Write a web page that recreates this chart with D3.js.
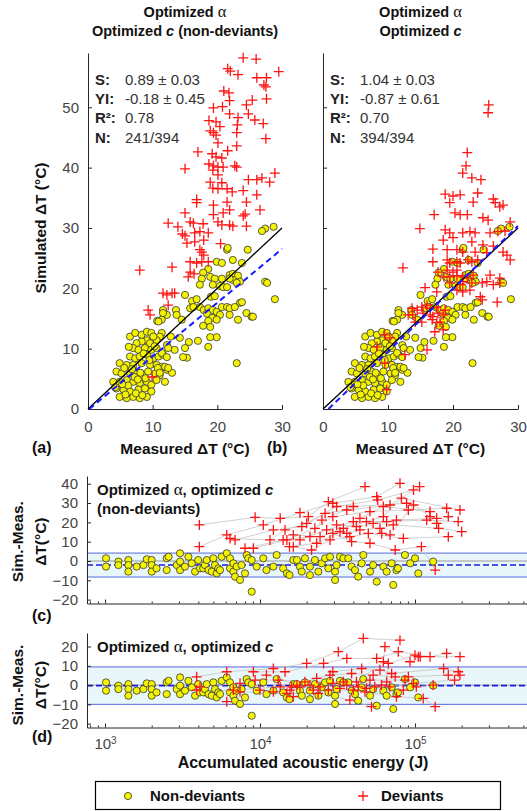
<!DOCTYPE html>
<html>
<head>
<meta charset="utf-8">
<script src="https://cdn.jsdelivr.net/npm/d3@7"></script>
<style>
  body { margin: 0; background: #fff; }
  svg { display: block; font-family: "Liberation Sans", Arial, sans-serif; }
</style>
</head>
<body>
<svg id="chart" width="527" height="811"></svg>
<script>
// ---- data ----
// non-deviants: [measured dT, simulated dT] (nearly identical in a and b)
const nonDev = [
  [27.4,29.9],[28.7,30.2],[26.9,29.5],[21.5,26.4],[21.6,26.7],[24.7,26.4],[19.9,24.4],[20.7,24.2],[22.4,24.7],[23.8,24.2],
  [18.6,23.2],[17.8,22.6],[17.6,21.6],[21.9,22.2],[22.4,22.4],[23.2,22.1],[23.5,21.1],[22.4,21.4],[21.9,21.6],[18.9,21.9],
  [19.6,21.6],[20.7,21.6],[17.3,20.6],[19.3,20.6],[20.4,20.4],[20.9,20.2],[21.5,20.2],[27.4,21.1],[27.7,20.9],[23.0,20.9],
  [15.0,18.9],[16.1,17.9],[16.8,18.2],[19.0,18.6],[19.6,18.7],[23.5,17.6],[28.9,18.2],[11.6,16.4],[12.2,15.6],[11.4,14.8],
  [10.7,14.6],[11.6,15.9],[13.6,16.4],[13.7,15.6],[15.8,16.7],[16.3,16.9],[17.3,16.9],[17.9,16.4],[18.6,16.7],[19.3,16.4],
  [19.9,16.1],[20.7,16.9],[21.5,16.9],[21.9,16.7],[22.7,16.9],[20.4,15.6],[21.9,15.6],[23.2,14.8],[18.4,15.8],[19.2,15.1],
  [18.6,14.6],[19.9,14.8],[17.8,13.8],[18.9,13.6],[24.5,15.9],[25.3,15.3],[25.5,15.3],[23.8,17.7],[14.5,14.8],[18.6,10.3],
  [19.9,11.9],[18.9,11.9],[17.0,11.3],[15.6,11.1],[14.2,11.8],[23.0,7.6],[15.0,10.1],[15.3,8.5],[14.7,8.6],[13.4,9.8],
  [12.2,10.6],[12.4,10.1],[11.4,12.6],[11.1,12.0],[10.4,11.2],[10.6,11.4],[10.9,14.5],[9.1,11.4],[9.6,10.9],[8.3,11.2],
  [7.5,10.9],[7.0,10.1],[7.8,9.8],[8.8,10.1],[9.8,9.8],[6.5,8.7],[7.3,8.4],[8.0,8.7],[9.1,9.0],[10.1,8.4],
  [10.9,8.7],[11.6,9.0],[4.9,7.6],[6.0,7.3],[7.0,7.3],[8.3,7.6],[9.6,7.3],[10.6,7.3],[11.4,7.0],[12.2,6.5],
  [4.4,6.2],[5.2,5.9],[6.5,5.9],[7.5,6.2],[8.5,5.6],[9.3,6.2],[10.4,5.9],[11.1,5.6],[3.9,4.5],[4.9,4.5],
  [6.0,4.8],[7.0,4.5],[8.0,4.3],[9.1,4.5],[9.8,4.0],[10.6,4.8],[11.9,4.5],[4.4,3.4],[5.5,3.2],[6.5,2.9],
  [7.8,3.2],[8.8,3.4],[9.8,2.9],[4.9,2.0],[6.0,1.8],[7.0,2.0],[8.0,1.8],[9.1,2.0],[6.5,12.0],[7.3,12.6],
  [8.3,12.3],[9.1,12.8],[9.8,12.6],[10.1,12.0],[10.8,6.8],[13.0,6.0],[11.9,7.0],[11.1,6.0],[10.6,10.1],[12.4,6.8],
  [11.4,9.3],[12.2,8.6],[4.2,3.6],[5.8,2.4],[7.4,2.6],[8.4,2.3],[6.2,3.9],[7.2,5.3],[8.9,5.1],[5.6,6.8],
  [6.8,6.6],[8.1,6.0],[9.5,8.1],[5.3,4.1],[7.7,4.9],[6.3,10.3],[8.6,9.2],[10.3,10.4],[12.8,12.0]
];

// deviants, panel (a)
const devA = [
  [24.0,58.2],[26.0,58.0],[21.6,56.4],[22.0,56.0],[23.2,55.4],[29.5,55.9],[26.1,54.9],[27.6,54.9],[27.2,53.7],[27.5,53.4],
  [21.0,52.7],[21.8,52.4],[27.6,51.4],[21.9,51.1],[25.4,51.2],[24.5,50.4],[19.4,49.9],[20.8,50.1],[24.8,48.9],[21.9,48.9],
  [23.2,48.3],[23.1,47.1],[18.7,47.8],[19.8,47.6],[25.8,47.9],[27.1,47.3],[20.4,46.8],[18.9,46.1],[19.4,45.8],[19.8,45.4],
  [23.0,45.8],[27.5,44.8],[20.1,44.1],[23.0,43.6],[17.0,42.6],[21.6,42.8],[19.2,42.3],[19.8,41.8],[20.7,41.6],[18.7,40.6],
  [19.4,40.3],[20.1,40.1],[20.9,40.1],[22.7,40.3],[23.0,40.1],[15.0,39.8],[19.3,39.6],[20.1,38.8],[28.9,39.1],[24.8,38.0],
  [26.1,38.0],[28.1,37.6],[26.9,38.3],[18.9,37.6],[20.7,37.5],[19.3,36.6],[20.1,36.5],[21.5,36.5],[22.3,36.0],[24.0,36.2],
  [26.1,35.5],[16.8,34.7],[16.8,34.2],[19.4,33.8],[21.5,34.3],[24.5,34.3],[15.0,32.5],[19.4,32.2],[20.9,32.5],[21.9,33.0],
  [24.0,32.0],[24.3,32.3],[26.6,33.0],[12.4,30.8],[13.9,30.2],[15.8,31.0],[16.3,30.8],[17.8,30.7],[20.1,31.0],[20.7,30.5],
  [21.9,30.5],[22.4,30.3],[24.5,30.3],[14.6,29.0],[15.0,28.7],[16.5,29.2],[17.3,29.4],[18.6,29.2],[15.3,27.5],[16.5,27.7],
  [17.9,28.0],[20.5,27.4],[17.3,26.4],[17.6,26.0],[17.9,25.5],[15.8,24.4],[16.8,24.2],[17.6,24.4],[18.6,24.4],[8.0,23.0],
  [13.0,23.5],[15.8,22.7],[16.4,22.4],[15.5,21.9],[11.6,19.2],[12.2,18.9],[13.0,19.2],[13.4,19.2],[12.4,17.2],[9.3,16.4],
  [9.6,15.6],[9.9,5.3]
];

// deviants, panel (b)
const devB = [
  [25.5,50.4],[25.4,49.1],[22.2,42.5],[22.0,40.3],[21.5,39.1],[22.9,38.3],[24.3,38.0],[18.8,35.6],[20.0,35.3],[21.1,35.5],
  [23.8,35.8],[26.2,34.8],[19.5,34.2],[23.1,34.3],[26.5,34.2],[27.2,33.5],[27.7,33.8],[17.1,32.2],[20.3,32.5],[21.1,32.2],
  [22.2,32.2],[24.6,31.7],[25.4,31.3],[28.8,31.0],[14.9,29.9],[18.8,29.7],[19.5,29.2],[21.5,29.2],[22.6,29.4],[23.4,29.2],
  [25.7,29.2],[26.9,29.4],[28.0,29.5],[18.5,28.0],[20.0,28.4],[22.9,27.7],[24.6,27.2],[26.2,27.0],[16.9,26.5],[19.1,26.4],
  [20.6,26.4],[21.5,26.0],[23.4,26.0],[25.2,25.9],[27.7,26.0],[28.3,25.5],[16.9,24.4],[19.1,24.7],[19.5,24.2],[20.6,24.4],
  [21.1,24.2],[22.3,24.7],[22.9,24.4],[23.8,24.7],[28.8,24.7],[12.3,23.4],[17.7,22.7],[19.1,23.0],[20.0,22.7],[20.6,23.0],
  [18.6,21.9],[19.5,21.9],[20.6,22.1],[21.5,21.9],[22.2,21.7],[23.1,22.2],[25.7,22.2],[27.2,21.7],[19.5,20.9],[21.1,20.6],
  [21.5,21.1],[22.9,20.9],[24.5,20.9],[25.2,21.1],[26.2,20.6],[27.2,20.9],[15.7,20.1],[17.5,19.4],[20.6,19.7],[21.5,19.4],
  [22.6,19.7],[24.2,18.6],[24.5,18.1],[26.8,17.7],[13.7,16.7],[14.5,16.4],[15.2,16.9],[16.0,17.2],[16.5,16.7],[17.5,16.9],
  [18.8,16.4],[13.1,15.6],[13.8,15.6],[15.4,15.9],[16.5,15.6],[16.9,15.3],[17.7,15.9],[18.5,15.6],[14.2,14.4],[15.2,14.4],
  [16.8,14.8],[17.5,14.3],[18.0,14.4],[17.2,12.8],[18.5,13.1],[9.5,12.3],[10.3,11.8],[8.3,10.3],[16.0,9.8],[12.6,9.0],
  [9.5,7.6],[9.8,3.2]
];

const fitSlope = [0.89, 1.04];
const fitIntercept = [-0.18, -0.87];
const statLabels = ["S:", "YI:", "R\u00b2:", "N:"];
const statsA = ["0.89 \u00b1 0.03", "-0.18 \u00b1 0.45", "0.78", "241/394"];
const statsB = ["1.04 \u00b1 0.03", "-0.87 \u00b1 0.61", "0.70", "394/394"];

// non-deviants, residuals: [accumulated energy (J), sim - meas]
const nonDevRes = [
  [1015,1.4],[1015,-2.9],[1220,-0.3],[1220,-2.1],[1415,0.5],[1415,-2.1],[1415,-5.5],[1600,-2.9],[1770,-2.1],[1860,0.9],
  [2000,0.5],[2000,-2.1],[2000,-5.5],[2150,-3.8],[2500,1.4],[2500,-4.7],[2570,2.2],[2900,-2.1],[3050,4.0],[3050,-0.3],
  [3050,-4.7],[3280,-2.9],[3450,2.2],[3630,-1.2],[3810,-5.5],[3990,0.5],[4100,-3.8],[4300,-3.8],[4410,-2.1],[4530,0.5],
  [4650,-4.7],[4880,-5.5],[5000,1.4],[5120,-2.1],[5260,-6.4],[5380,-3.8],[5520,-4.7],[5660,2.2],[6100,4.0],[6400,1.4],
  [6400,-3.8],[6730,-1.2],[6730,-5.5],[6900,-8.1],[7070,-2.9],[7430,-9.8],[7600,-2.1],[8000,-6.4],[8200,3.1],[8400,1.4],
  [8840,-15.9],[8840,0.5],[9510,-2.9],[10500,1.4],[11000,-4.7],[12200,-2.9],[12800,3.1],[14100,-3.8],[14900,-6.4],[15500,-7.3],
  [16400,0.5],[17300,0.5],[18100,-2.9],[18600,-5.5],[19500,1.4],[21000,-2.9],[21000,-7.3],[22600,0.5],[23800,-5.5],[25000,-1.2],
  [26300,1.4],[27600,-3.8],[28300,2.2],[30500,-5.5],[30500,-9.8],[31200,-2.1],[32800,2.2],[34500,1.4],[37100,1.4],[39000,-2.9],
  [41000,-4.7],[43000,-8.1],[45300,-1.2],[46400,3.1],[51300,-5.5],[53700,-2.1],[56600,-10.7],[62500,-2.9],[65600,-5.5],[70700,-1.2],
  [72400,-12.4],[75900,-4.7],[77600,-3.8],[86100,3.1],[93100,-1.2],[100000,1.4],[105000,-6.4],[131000,-0.3]
];

// deviants, residuals, panel (c): series of measurements, one list per sample
const devResC = [
  [[4060,18.7],[9300,22.6],[13500,22.1],[20500,23.0],[27600,30.7],[47600,38.5]],
  [[4060,7.4],[6100,13.5],[10500,18.7],[18100,25.0],[29500,29.9],[56600,33.3],[80000,40.2]],
  [[6400,11.7],[11600,10.9],[14500,16.1],[20000,19.5],[31200,28.2],[57500,31.6],[97800,36.8]],
  [[6900,10.9],[12200,16.1],[18600,17.8],[26300,24.7],[36300,26.4],[69000,29.0],[107000,38.5]],
  [[8000,6.6],[14100,10.9],[21000,12.6],[25100,21.2],[40000,28.2],[88300,29.9]],
  [[9060,6.6],[14900,10.9],[22600,16.9],[29500,23.0],[51200,25.6],[90600,26.4],[160000,27.3]],
  [[15500,7.4],[23200,9.2],[32800,15.2],[44100,22.1],[62500,28.2],[125000,25.6]],
  [[16400,13.5],[24400,12.6],[34500,16.9],[62500,23.0],[81700,32.5],[195000,26.4]],
  [[16400,7.4],[21500,5.7],[28300,10.9],[38000,12.6],[50000,14.3],[84100,11.7],[164000,12.6]],
  [[18100,10.9],[26900,16.1],[40000,20.4],[65600,20.4],[119000,21.2],[190000,20.4]],
  [[29500,14.3],[39000,10.0],[51200,9.2],[74500,5.7],[110000,7.4],[135000,-4.7]],
  [[31200,18.7],[41900,17.8],[53700,19.5],[75900,21.2],[138000,22.1]],
  [[36300,14.3],[44100,16.1],[59400,16.9],[72400,18.7],[142000,16.9],[200000,15.2]],
  [[48600,20.4],[61000,14.3],[69000,13.5],[97800,29.0],[125000,23.0],[138000,19.5],[164000,23.0]]
];

// deviants, residuals, panel (d)
const devResD = [
  [[3900,4.3],[6100,6.9],[12200,8.6],[20000,11.2],[32000,17.3],[46400,24.2],[80000,23.3]],
  [[3900,-2.6],[6730,-2.6],[13500,-0.9],[18100,-0.9],[27600,-2.6],[40000,-2.6],[68800,-0.9]],
  [[4100,-0.9],[7430,0.9],[9300,2.6],[13100,2.6],[19500,1.7],[34500,1.7],[51200,2.6],[86100,2.6]],
  [[6100,-8.6],[7430,-3.5],[14900,-4.3],[23700,-4.3],[38000,-7.8],[52400,-11.2]],
  [[9060,6.9],[14500,6.9],[25700,11.2],[36300,13.8],[56600,13.8],[78000,17.3],[125000,14.7],[160000,16.4]],
  [[10000,-2.6],[16400,-6.0],[22100,-2.6],[32800,-1.7],[47600,-3.5],[75900,-6.0],[113000,-6.9],[135000,-11.2]],
  [[11000,5.2],[17300,0],[23200,3.5],[28300,5.2],[39000,6.0],[53700,5.2],[74500,4.3],[90600,4.3],[164000,5.2]],
  [[12200,-3.5],[15600,-2.6],[21000,0],[29500,0.9],[43000,-0.9],[60800,0],[102000,-0.9],[131000,0]],
  [[16000,-0.9],[24400,-0.9],[36300,0],[48600,-1.7],[55000,-0.9],[84100,-2.6],[97800,0.9],[180000,2.6]],
  [[29500,6.9],[45300,8.6],[59400,7.8],[70700,6.0],[153000,8.6],[190000,6.9],[195000,5.2]],
  [[41900,1.7],[62500,12.1],[64000,19.9],[92900,12.1],[105000,14.7],[195000,14.7]],
  [[65600,1.7],[67300,11.2],[100000,15.5],[108000,14.7]]
];

// [lower limit, mean, upper limit]
const bandC = [-8.3, -2.1, 4.1];
const bandD = [-10.0, -0.3, 9.4];

const xTicksAB = [0, 10, 20, 30];
const yTicksAB = [0, 10, 20, 30, 40, 50];
const yTicksC = [-20, -10, 0, 10, 20, 30, 40];
const yTicksD = [-20, -10, 0, 10, 20];
const xTicksE = [1e3, 1e4, 1e5];

// ---- drawing ----
const svg = d3.select("#chart");
const AX = "#262626";
const TXT = "#444";
const YELLOW = "#f4f400";
const RED = "#ff1414";

const yAB = d3.scaleLinear().domain([0, 59]).range([409, 53]);
const xA = d3.scaleLinear().domain([0, 30]).range([88, 282]);
const xB = d3.scaleLinear().domain([0, 30]).range([323, 518]);
const xE = d3.scaleLog().domain([765, 528000]).range([87, 527]);
const yC = d3.scaleLinear().domain([-22, 44]).range([603.5, 476]);
const yD = d3.scaleLinear().domain([-22, 27]).range([727.5, 633]);

function styleAxis(g) {
  g.attr("font-family", null).attr("font-size", null).attr("color", AX);
  g.selectAll("text").attr("fill", TXT).style("font-size", "15px");
}

function drawDots(g, data, x, y) {
  g.append("g").selectAll("circle")
    .data(data)
    .join("circle")
    .attr("cx", d => x(d[0]))
    .attr("cy", d => y(d[1]))
    .attr("r", 3.6)
    .attr("fill", YELLOW)
    .attr("stroke", "#333")
    .attr("stroke-width", 0.8);
}

function drawCrosses(g, data, x, y) {
  g.append("g").selectAll("path")
    .data(data)
    .join("path")
    .attr("d", d => `M${x(d[0]) - 5},${y(d[1])}h10M${x(d[0])},${y(d[1]) - 5}v10`)
    .attr("stroke", RED)
    .attr("stroke-width", 1.3)
    .attr("fill", "none");
}

function boldText(x, y, parts, size = 15) {
  const t = svg.append("text").attr("x", x).attr("y", y)
    .attr("font-weight", "bold").attr("font-size", size).attr("fill", "#111");
  parts.forEach(p => {
    const s = t.append("tspan").text(p.t);
    if (p.alpha) s.attr("font-family", "'Liberation Serif', serif").attr("font-weight", "normal").attr("font-size", size + 2);
    if (p.it) s.attr("font-style", "italic");
  });
  return t;
}

function scatterPanel(x, devs, k, stats, yLabels, letter, title2) {
  const g = svg.append("g");

  // axes
  const gy = g.append("g").attr("transform", `translate(${x(0)},0)`)
    .call(d3.axisLeft(yAB).tickValues(yTicksAB).tickSizeInner(-4).tickSizeOuter(0).tickPadding(9)
      .tickFormat(yLabels ? d3.format("d") : ""));
  styleAxis(gy);
  const gx = g.append("g").attr("transform", `translate(0,${yAB(0)})`)
    .call(d3.axisBottom(x).tickValues(xTicksAB).tickSizeInner(-4).tickSizeOuter(0).tickPadding(12));
  styleAxis(gx);

  drawDots(g, nonDev, x, yAB);
  drawCrosses(g, devs, x, yAB);

  // 1:1 line
  g.append("line")
    .attr("x1", x(0)).attr("y1", yAB(0)).attr("x2", x(30)).attr("y2", yAB(30))
    .attr("stroke", "#000").attr("stroke-width", 1.3);
  // fitted regression
  const s = fitSlope[k], b = fitIntercept[k];
  const xs = Math.max(0, -b / s);
  g.append("line")
    .attr("x1", x(xs)).attr("y1", yAB(s * xs + b)).attr("x2", x(30)).attr("y2", yAB(s * 30 + b))
    .attr("stroke", "#1a1aff").attr("stroke-width", 2).attr("stroke-dasharray", "6,4");

  // statistics block
  statLabels.forEach((lab, i) => {
    svg.append("text").attr("x", x(0) + 7).attr("y", 85 + i * 19.2)
      .attr("font-weight", "bold").attr("font-size", 15).attr("fill", "#222").text(lab);
    svg.append("text").attr("x", x(0) + 37).attr("y", 85 + i * 19.2)
      .attr("font-size", 15).attr("fill", "#333").text(stats[i]);
  });

  // titles
  const cx = (x.range()[0] + x.range()[1]) / 2;
  boldText(cx, 17, [{ t: "Optimized " }, { t: "\u03b1", alpha: true }], 14.5).attr("text-anchor", "middle");
  boldText(cx, 36, title2, 14.5).attr("text-anchor", "middle");

  // x label and panel letter
  svg.append("text").attr("x", cx).attr("y", 454).attr("text-anchor", "middle")
    .attr("font-weight", "bold").attr("font-size", 15.5).attr("fill", "#111").text("Measured \u0394T (\u00b0C)");
  svg.append("text").attr("x", x(0) - 56).attr("y", 453)
    .attr("font-weight", "bold").attr("font-size", 16).attr("fill", "#111").text(letter);
}

scatterPanel(xA, devA, 0, statsA, true, "(a)",
  [{ t: "Optimized " }, { t: "c", it: true }, { t: " (non-deviants)" }]);
scatterPanel(xB, devB, 1, statsB, false, "(b)",
  [{ t: "Optimized " }, { t: "c", it: true }]);

svg.append("text").attr("transform", "translate(46,228) rotate(-90)").attr("text-anchor", "middle")
  .attr("font-weight", "bold").attr("font-size", 15.5).attr("fill", "#111").text("Simulated \u0394T (\u00b0C)");

function residualPanel(y, yTicks, band, devChains, labels, letter, letterY, showX) {
  const g = svg.append("g");
  const [x0, x1] = xE.range();

  // limits of agreement band
  g.append("rect").attr("x", x0).attr("y", y(band[2]))
    .attr("width", x1 - x0).attr("height", y(band[0]) - y(band[2]))
    .attr("fill", "#eaf7fa");
  [band[0], band[2]].forEach(v => {
    g.append("line").attr("x1", x0).attr("x2", x1).attr("y1", y(v)).attr("y2", y(v))
      .attr("stroke", "#5468e0").attr("stroke-width", 1);
  });
  g.append("line").attr("x1", x0).attr("x2", x1).attr("y1", y(0)).attr("y2", y(0))
    .attr("stroke", "#999").attr("stroke-width", 1);
  g.append("line").attr("x1", x0).attr("x2", x1).attr("y1", y(band[1])).attr("y2", y(band[1]))
    .attr("stroke", "#1b1be0").attr("stroke-width", 1.6).attr("stroke-dasharray", "6,3");

  // connecting lines for each sample
  const line = d3.line().x(d => xE(d[0])).y(d => y(d[1]));
  g.append("g").selectAll("path")
    .data(devChains)
    .join("path")
    .attr("d", line)
    .attr("fill", "none")
    .attr("stroke", "#c4c4c4")
    .attr("stroke-width", 0.8);

  drawDots(g, nonDevRes, xE, y);
  drawCrosses(g, devChains.flat(), xE, y);

  // axes
  const gy = g.append("g").attr("transform", `translate(${x0},0)`)
    .call(d3.axisLeft(y).tickValues(yTicks).tickSizeInner(-4).tickSizeOuter(0).tickPadding(9));
  styleAxis(gy);
  const gx = g.append("g").attr("transform", `translate(0,${y.range()[0]})`)
    .call(d3.axisBottom(xE).tickValues(xTicksE).tickSizeInner(-4).tickSizeOuter(0).tickPadding(11)
      .tickFormat(showX ? d => d : ""));
  styleAxis(gx);
  if (showX) {
    gx.selectAll(".tick text").text(null).each(function (d) {
      const t = d3.select(this);
      t.append("tspan").text("10");
      t.append("tspan").attr("dy", "-0.5em").style("font-size", "10px").text(Math.round(Math.log10(d)));
    });
  }
  const minor = xE.ticks().filter(v => !xTicksE.includes(v) && v >= 800);
  const gm = g.append("g").attr("transform", `translate(0,${y.range()[0]})`)
    .call(d3.axisBottom(xE).tickValues(minor).tickSizeInner(-2).tickSizeOuter(0).tickFormat(""));
  styleAxis(gm);
  gm.select(".domain").remove();

  // y label (two lines)
  const cy = (y(yTicks[0]) + y(yTicks[yTicks.length - 1])) / 2;
  svg.append("text").attr("transform", `translate(23,${cy}) rotate(-90)`).attr("text-anchor", "middle")
    .attr("font-weight", "bold").attr("font-size", 15.5).attr("fill", "#111").text("Sim.-Meas.");
  svg.append("text").attr("transform", `translate(46,${cy}) rotate(-90)`).attr("text-anchor", "middle")
    .attr("font-weight", "bold").attr("font-size", 15.5).attr("fill", "#111").text("\u0394T(\u00b0C)");

  labels.forEach((parts, i) => boldText(97, y.range()[1] + 19 + i * 18.5, parts, 15));

  svg.append("text").attr("x", 32).attr("y", letterY)
    .attr("font-weight", "bold").attr("font-size", 16).attr("fill", "#111").text(letter);
}

residualPanel(yC, yTicksC, bandC, devResC,
  [[{ t: "Optimized " }, { t: "\u03b1", alpha: true }, { t: ", optimized " }, { t: "c", it: true }],
   [{ t: "(non-deviants)" }]],
  "(c)", 621, false);
residualPanel(yD, yTicksD, bandD, devResD,
  [[{ t: "Optimized " }, { t: "\u03b1", alpha: true }, { t: ", optimized " }, { t: "c", it: true }]],
  "(d)", 742, true);

svg.append("text").attr("x", 303).attr("y", 768).attr("text-anchor", "middle")
  .attr("font-weight", "bold").attr("font-size", 16).attr("fill", "#111").text("Accumulated acoustic energy (J)");

// legend
const lg = svg.append("g");
lg.append("rect").attr("x", 95.5).attr("y", 781.5).attr("width", 405).attr("height", 28)
  .attr("fill", "#fff").attr("stroke", "#000").attr("stroke-width", 1.2);
drawDots(lg, [[0, 0]], () => 128, () => 796);
lg.append("text").attr("x", 150).attr("y", 801).attr("font-weight", "bold").attr("font-size", 15)
  .attr("fill", "#111").text("Non-deviants");
drawCrosses(lg, [[0, 0]], () => 363, () => 796);
lg.append("text").attr("x", 381).attr("y", 801).attr("font-weight", "bold").attr("font-size", 15)
  .attr("fill", "#111").text("Deviants");
</script>
</body>
</html>
